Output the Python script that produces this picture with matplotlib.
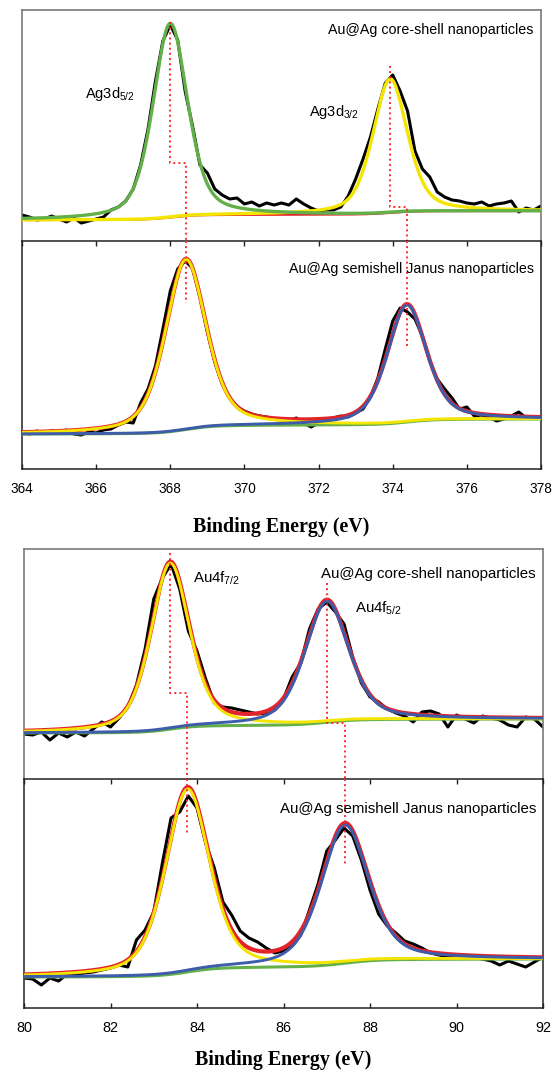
import numpy as np
import matplotlib
matplotlib.use("Agg")
import matplotlib.pyplot as plt
from matplotlib.transforms import blended_transform_factory

plt.rcParams['font.family'] = ['Liberation Sans', 'DejaVu Sans']
plt.rcParams['mathtext.fontset'] = 'custom'
plt.rcParams['mathtext.rm'] = 'Liberation Sans'
plt.rcParams['mathtext.it'] = 'Liberation Sans:italic'
plt.rcParams['mathtext.bf'] = 'Liberation Sans:bold'

#### DATA ####
ag_energy = np.round(np.arange(364.0, 378.001, 0.2), 1)
au_energy = np.round(np.arange(80.0, 92.001, 0.2), 1)

# measured spectra (arb. units)
ag_core = [26, 24, 21, 22, 25, 22, 19, 23, 18, 20,
           22, 24, 31, 34, 40, 52, 76, 112, 160, 200,
           216, 201, 150, 115, 76, 68, 52, 46, 42, 43,
           37, 39, 35, 38, 36, 38, 36, 42, 37, 33,
           30, 31, 31, 34, 45, 62, 82, 104, 132, 158,
           166, 150, 130, 90, 72, 64, 49, 44, 41, 40,
           38, 37, 39, 35, 37, 38, 40, 29, 33, 31,
           35]
ag_janus = [37, 35, 38, 36, 38, 37, 39, 35, 34, 37,
            36, 39, 40, 44, 47, 46, 66, 80, 103, 140,
            178, 200, 208, 201, 172, 137, 107, 85, 71, 62,
            58, 55, 53, 52, 50, 49, 48, 51, 46, 42,
            46, 48, 51, 53, 52, 56, 60, 72, 91, 120,
            148, 161, 157, 150, 133, 108, 90, 80, 71, 60,
            62, 53, 54, 52, 48, 50, 53, 57, 51, 52,
            52]
au_core = [45, 44, 47, 39, 46, 42, 47, 43, 50, 57,
           52, 61, 72, 94, 130, 180, 201, 215, 190, 148,
           128, 100, 76, 72, 71, 69, 67, 65, 66, 69,
           80, 102, 116, 150, 170, 177, 167, 155, 122, 96,
           82, 77, 70, 66, 63, 57, 67, 68, 65, 52,
           64, 60, 56, 63, 61, 59, 54, 52, 62, 60,
           52]
au_janus = [30, 29, 23, 30, 27, 34, 33, 35, 36, 38,
            40, 43, 41, 68, 78, 96, 145, 190, 196, 212,
            200, 165, 140, 106, 93, 77, 70, 66, 60, 55,
            57, 62, 73, 98, 124, 157, 168, 180, 172, 148,
            118, 94, 82, 75, 67, 64, 60, 55, 53, 51,
            52, 51, 50, 49, 47, 43, 47, 44, 41, 46,
            51]

# fitted components: peak centre (eV), height, FWHM (eV), Shirley background ends
ag_core_centres = [368.00, 373.93]
ag_core_heights = [194, 134]
ag_core_widths = [1.10, 1.10]
ag_core_bg = [21, 30]

ag_janus_centres = [368.42, 374.38]
ag_janus_heights = [170, 117]
ag_janus_widths = [1.30, 1.25]
ag_janus_bg = [35, 50]

au_core_centres = [83.38, 87.00]
au_core_heights = [166, 121]
au_core_widths = [1.06, 1.20]
au_core_bg = [46, 60]

au_janus_centres = [83.78, 87.42]
au_janus_heights = [183, 138]
au_janus_widths = [1.20, 1.30]
au_janus_bg = [31, 49]

mix = 0.45  # lorentzian fraction

ag_ticks = [364, 366, 368, 370, 372, 374, 376, 378]
au_ticks = [80, 82, 84, 86, 88, 90, 92]

green = '#63b04a'
yellow = '#f4e500'
red = '#e3232a'
blue = '#3d5ca9'
dotred = '#ff2b2b'


def peak(x, c, h, w):
    u = (x - c) / w
    return h * (mix / (1 + 4 * u**2) + (1 - mix) * np.exp(-4 * np.log(2) * u**2))


def shirley(x, total, lo, hi):
    acc = np.concatenate([[0], np.cumsum((total[1:] + total[:-1]) / 2 * np.diff(x))])
    return lo + (hi - lo) * acc / acc[-1]


def components(x, centres, heights, widths, bg_ends):
    p1 = peak(x, centres[0], heights[0], widths[0])
    p2 = peak(x, centres[1], heights[1], widths[1])
    bg = shirley(x, p1 + p2, bg_ends[0], bg_ends[1])
    return bg, bg + p1, bg + p2, bg + p1 + p2


def lower_panel(ax, x, y, xf, comps):
    bg, c1, c2, env = comps
    ax.plot(x, y, color='black', lw=2.2, zorder=2)
    ax.plot(xf, bg, color=green, lw=2.2, zorder=3)
    ax.plot(xf, env, color=red, lw=3.0, zorder=4)
    ax.plot(xf, c1, color=yellow, lw=2.1, zorder=5)
    ax.plot(xf, c2, color=blue, lw=2.1, zorder=6)


def style_upper(ax, lim, ticks):
    ax.set_xlim(lim)
    ax.set_xticks(ticks)
    ax.set_yticks([])
    ax.tick_params(bottom=False, labelbottom=False)
    for s in ['top', 'left', 'right']:
        ax.spines[s].set_color('#7a7a7a')
        ax.spines[s].set_linewidth(1.2)
    ax.spines['bottom'].set_visible(False)


def style_lower(ax, lim, ticks, size):
    ax.set_xlim(lim)
    ax.set_xticks(ticks)
    ax.set_yticks([])
    ax.tick_params(axis='x', direction='in', top=True, bottom=True, length=3.5,
                   width=1.0, labelsize=size, pad=9.5, color='#222222')
    for s in ax.spines.values():
        s.set_color('#222222')
        s.set_linewidth(1.1)


def dotted_step(ax_up, ax_low, x_up, x_low, top, step, stop):
    tr_up = blended_transform_factory(ax_up.transData, ax_up.transAxes)
    tr_low = blended_transform_factory(ax_low.transData, ax_low.transAxes)
    ax_up.plot([x_up, x_up, x_low, x_low], [top, step, step, 0], ls=':', lw=1.4,
               color=dotred, transform=tr_up, clip_on=False, zorder=10)
    ax_low.plot([x_low, x_low], [1, stop], ls=':', lw=1.4,
                color=dotred, transform=tr_low, clip_on=False, zorder=10)


#### FIGURE ####
fig = plt.figure(figsize=(5.52, 10.72), dpi=100)
axA = fig.add_axes([22 / 552, 1 - 241 / 1072, 519 / 552, 231 / 1072])
axB = fig.add_axes([22 / 552, 1 - 469 / 1072, 519 / 552, 228 / 1072])
axC = fig.add_axes([24 / 552, 1 - 779 / 1072, 519 / 552, 230 / 1072])
axD = fig.add_axes([24 / 552, 1 - 1008 / 1072, 519 / 552, 229 / 1072])

xf_ag = np.linspace(364, 378, 1401)
xf_au = np.linspace(80, 92, 1201)

# Ag 3d core-shell
bg, c1, c2, env = components(xf_ag, ag_core_centres, ag_core_heights, ag_core_widths, ag_core_bg)
axA.plot(ag_energy, ag_core, color='black', lw=2.2, zorder=2)
axA.plot(xf_ag, bg, color=red, lw=1.6, zorder=3)
axA.plot(xf_ag, c2, color=yellow, lw=2.4, zorder=4)
axA.plot(xf_ag, c1, color=green, lw=2.4, zorder=5)
axA.set_ylim(0, 231)
style_upper(axA, (364, 378), ag_ticks)

# Ag 3d Janus
lower_panel(axB, ag_energy, ag_janus, xf_ag,
            components(xf_ag, ag_janus_centres, ag_janus_heights, ag_janus_widths, ag_janus_bg))
axB.set_ylim(0, 228)
style_lower(axB, (364, 378), ag_ticks, 9.8)

# Au 4f core-shell
lower_panel(axC, au_energy, au_core, xf_au,
            components(xf_au, au_core_centres, au_core_heights, au_core_widths, au_core_bg))
axC.set_ylim(0, 230)
style_upper(axC, (80, 92), au_ticks)

# Au 4f Janus
lower_panel(axD, au_energy, au_janus, xf_au,
            components(xf_au, au_janus_centres, au_janus_heights, au_janus_widths, au_janus_bg))
axD.set_ylim(0, 229)
style_lower(axD, (80, 92), au_ticks, 10.4)

# shift guides
dotted_step(axA, axB, ag_core_centres[0], ag_janus_centres[0], 0.948, 0.338, 0.728)
dotted_step(axA, axB, ag_core_centres[1], ag_janus_centres[1], 0.758, 0.147, 0.531)
dotted_step(axC, axD, au_core_centres[0], au_janus_centres[0], 0.983, 0.374, 0.755)
dotted_step(axC, axD, au_core_centres[1], au_janus_centres[1], 0.852, 0.243, 0.629)

# labels
axA.text(365.70, 143, 'Ag3d$\\mathregular{_{5/2}}$', fontsize=10.5, va='baseline', zorder=12)
axA.text(371.74, 125, 'Ag3d$\\mathregular{_{3/2}}$', fontsize=10.5, va='baseline', zorder=12)
axA.text(377.80, 207, 'Au@Ag core-shell nanoparticles', fontsize=10.3,
         ha='right', va='baseline', zorder=12)
axB.text(377.80, 195.7, 'Au@Ag semishell Janus nanoparticles', fontsize=10.3,
         ha='right', va='baseline', zorder=12)
axC.text(83.91, 196, 'Au4f$\\mathregular{_{7/2}}$', fontsize=10.8, va='baseline', zorder=12)
axC.text(87.65, 166, 'Au4f$\\mathregular{_{5/2}}$', fontsize=10.8, va='baseline', zorder=12)
axC.text(91.84, 201, 'Au@Ag core-shell nanoparticles', fontsize=10.8,
         ha='right', va='baseline', zorder=12)
axD.text(91.85, 195, 'Au@Ag semishell Janus nanoparticles', fontsize=10.8,
         ha='right', va='baseline', zorder=12)

fig.text(281.5 / 552, 1 - 531.7 / 1072, 'Binding Energy (eV)', family='Liberation Serif',
         weight='bold', fontsize=14.4, ha='center', va='baseline')
fig.text(283.5 / 552, 1 - 1065.5 / 1072, 'Binding Energy (eV)', family='Liberation Serif',
         weight='bold', fontsize=14.4, ha='center', va='baseline')

fig.savefig('out.png', dpi=100)
